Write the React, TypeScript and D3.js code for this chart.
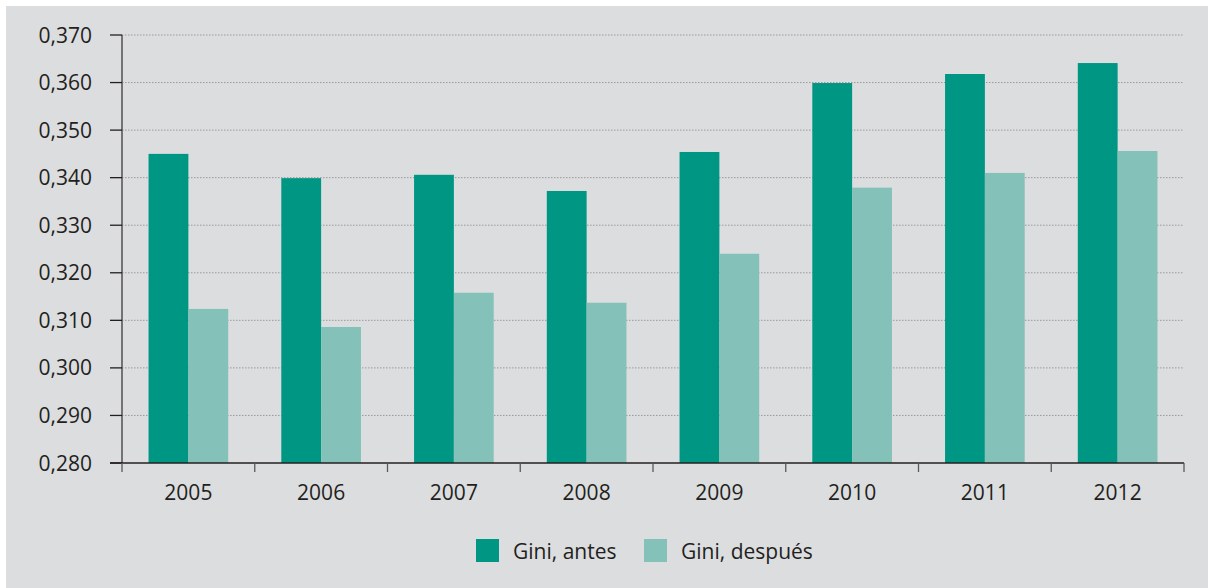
import React from "react";
import * as d3 from "d3";

const years = ["2005", "2006", "2007", "2008", "2009", "2010", "2011", "2012"];
const giniAntes = [0.345, 0.3399, 0.3406, 0.3372, 0.3454, 0.3599, 0.3618, 0.3641];
const giniDespues = [0.3124, 0.3086, 0.3158, 0.3137, 0.324, 0.3379, 0.341, 0.3456];
const yTicks = [0.28, 0.29, 0.3, 0.31, 0.32, 0.33, 0.34, 0.35, 0.36, 0.37];
const seriesNames = ["Gini, antes", "Gini, después"];
const seriesColors = ["#009684", "#84c1b8"];

const W = 1208;
const H = 588;
const left = 122;
const right = 1184;
const top = 35;
const bottom = 463;
const FONT = "'Open Sans', sans-serif";
const TEXT = "#231f20";

export default function App() {
  const x = d3.scaleBand<string>().domain(years).range([left, right]).paddingInner(0).paddingOuter(0);
  const y = d3.scaleLinear().domain([0.28, 0.37]).range([bottom, top]);
  const bw = x.bandwidth();
  const barW = bw * 0.3;
  const fmt = (v: number) => d3.format(".3f")(v).replace(".", ",");
  const series = [giniAntes, giniDespues];

  return (
    <svg
      width={W}
      height={H}
      style={{ position: "absolute", left: 0, top: 0, display: "block" }}
    >
      <rect x={6} y={6} width={W - 6} height={H - 6} fill="#dcdddf" />
      {yTicks.slice(1).map((t) => (
        <line
          key={"g" + t}
          x1={left}
          x2={right}
          y1={y(t)}
          y2={y(t)}
          stroke="#9a9a9c"
          strokeWidth={1}
          strokeDasharray="1.5,1.5"
        />
      ))}
      {series.map((vals, si) =>
        years.map((yr, i) => (
          <rect
            key={si + "-" + yr}
            x={(x(yr) as number) + bw / 2 - barW + si * barW}
            y={y(vals[i])}
            width={barW}
            height={bottom - y(vals[i])}
            fill={seriesColors[si]}
          />
        ))
      )}
      <line x1={left} x2={left} y1={top} y2={bottom} stroke="#58595b" strokeWidth={1.6} />
      {yTicks.map((t) => (
        <g key={"t" + t}>
          <line x1={110} x2={left} y1={y(t)} y2={y(t)} stroke="#231f20" strokeWidth={1.3} />
          <text
            x={92}
            y={y(t)}
            dy="0.36em"
            textAnchor="end"
            fontFamily={FONT}
            fontSize={21}
            fill={TEXT}
          >
            {fmt(t)}
          </text>
        </g>
      ))}
      <line x1={110} x2={right} y1={bottom} y2={bottom} stroke="#231f20" strokeWidth={1.3} />
      {[...years.map((yr) => x(yr) as number), right].map((px, i) => (
        <line key={"xt" + i} x1={px} x2={px} y1={bottom} y2={bottom + 9} stroke="#58595b" strokeWidth={1.3} />
      ))}
      {years.map((yr) => (
        <text
          key={"xl" + yr}
          x={(x(yr) as number) + bw / 2}
          y={500}
          textAnchor="middle"
          fontFamily={FONT}
          fontSize={21}
          fill={TEXT}
        >
          {yr}
        </text>
      ))}
      {seriesNames.map((name, i) => {
        const lx = [476, 644][i];
        return (
          <g key={"lg" + i}>
            <rect x={lx} y={539} width={23} height={23} fill={seriesColors[i]} />
            <text x={lx + 37} y={559} fontFamily={FONT} fontSize={21} fill={TEXT}>
              {name}
            </text>
          </g>
        );
      })}
    </svg>
  );
}
